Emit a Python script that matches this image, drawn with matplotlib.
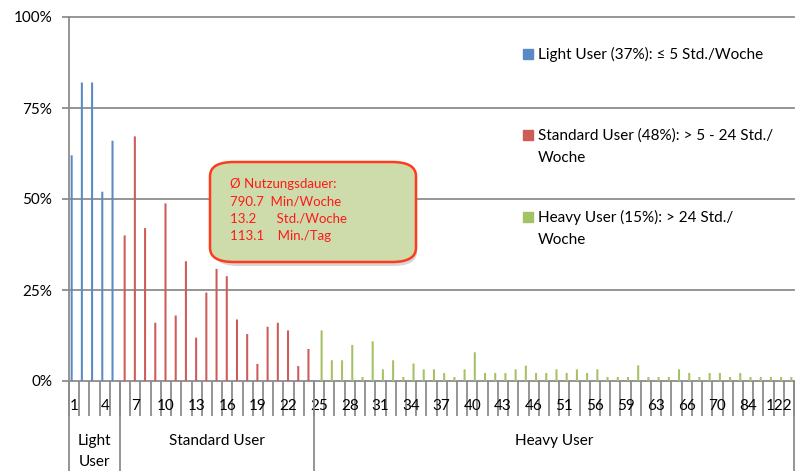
import numpy as np
import matplotlib.pyplot as plt
from matplotlib.patches import FancyBboxPatch, Rectangle
from matplotlib.lines import Line2D
import matplotlib.transforms as mtransforms

plt.rcParams['font.family'] = ['Lato', 'DejaVu Sans']

# Nutzungsdauer in Std./Woche (Kategorien der x-Achse)
categories = [str(h) for h in range(1, 47)] + [
    '48', '50', '51', '52', '55', '56', '57', '58', '59', '60', '62', '63',
    '64', '65', '66', '67', '68', '70', '72', '75', '84', '90', '98', '122', '168']

# Anteile in % je Kategorie
light_vals = [62, 82, 82, 52, 66]
standard_vals = [40, 67.2, 42, 16, 48.8, 18, 32.9, 11.9, 24.3, 30.8,
                 28.8, 16.9, 12.9, 4.7, 14.9, 16, 13.9, 4.1, 8.8]
heavy_vals = [13.9, 5.7, 5.7, 9.9, 1.1, 10.9, 3.2, 5.7, 1.1, 4.8,
              3.2, 3.2, 2.2, 1.1, 3.2, 7.9, 2.2, 2.2, 2.2, 3.2,
              4.2, 2.2, 2.2, 3.2, 2.2, 3.2, 2.2, 3.2, 1.1, 1.1,
              1.1, 4.3, 1.1, 1.1, 1.1, 3.2, 2.2, 1.1, 2.2, 2.2,
              1.1, 2.2, 1.1, 1.1, 1.1, 1.1, 1.1]

groups = ['Light\nUser', 'Standard User', 'Heavy User']
legend_labels = ['Light User (37%): \u2264 5 Std./Woche',
                 'Standard User (48%): > 5 - 24 Std./\nWoche',
                 'Heavy User (15%): > 24 Std./\nWoche']
box_lines = ['\u00d8 Nutzungsdauer:', '790.7  Min/Woche',
             '13.2      Std./Woche', '113.1    Min./Tag']

c_light = '#5a8ac6'
c_std = '#cd5b57'
c_heavy = '#a4c264'
grey = '#8c8c8c'

W, H = 799, 471
fig = plt.figure(figsize=(W / 100, H / 100), dpi=100)
ax = fig.add_axes([69 / W, (H - 381) / H, (794 - 69) / W, (381 - 17) / H])

n_light = len(light_vals)
n_std = len(standard_vals)
n_heavy = len(heavy_vals)
x_light = np.arange(n_light)
x_std = np.arange(n_light, n_light + n_std)
x_heavy = np.arange(n_light + n_std, n_light + n_std + n_heavy)

bw = 0.2
ax.bar(x_light - 0.24, light_vals, width=bw, color=c_light, zorder=3, snap=False)
ax.bar(x_std - 0.05, standard_vals, width=bw, color=c_std, zorder=3, snap=False)
ax.bar(x_heavy + 0.24, heavy_vals, width=bw, color=c_heavy, zorder=3, snap=False)

n = len(categories)
ax.set_xlim(-0.5, n - 0.5)
ax.set_ylim(0, 100)

for v in [0, 25, 50, 75, 100]:
    ax.axhline(v, color=grey, lw=1.3, zorder=1, clip_on=False)

for s in ['top', 'right', 'bottom']:
    ax.spines[s].set_visible(False)
ax.spines['left'].set_color(grey)
ax.spines['left'].set_linewidth(1.3)

ax.set_yticks([0, 25, 50, 75, 100])
ax.set_yticklabels(['0%', '25%', '50%', '75%', '100%'], fontsize=11)
ax.tick_params(axis='y', length=5, width=1.3, color=grey, pad=7)

# x ticks: major at category borders (long), minor in the middle with labels
ax.set_xticks(np.arange(n + 1) - 0.5)
ax.set_xticklabels([])
ax.tick_params(axis='x', which='major', length=25, width=1.3, color=grey)
ax.set_xticks(np.arange(n), minor=True)
ax.set_xticklabels([c if i % 3 == 0 else '' for i, c in enumerate(categories)],
                   minor=True, fontsize=11)
ax.tick_params(axis='x', which='minor', length=0, pad=13)

# Gruppen unter der Achse
trans = mtransforms.blended_transform_factory(ax.transData, ax.transAxes)
ybot = -(471 - 381) / (381 - 17)
for b in [-0.5, n_light - 0.5, n_light + n_std - 0.5, n - 0.5]:
    ax.add_line(Line2D([b, b], [0, ybot], transform=trans, color=grey,
                       lw=1.3, clip_on=False))
centers = [(-0.5 + n_light - 0.5) / 2,
           (n_light - 0.5 + n_light + n_std - 0.5) / 2,
           (n_light + n_std - 0.5 + n - 0.5) / 2]
for cx, g in zip(centers, groups):
    ax.text(cx, -(434 - 381) / 364, g, transform=trans, ha='center', va='top',
            fontsize=11, linespacing=1.65)

# Legende
leg_y = [54, 135, 216.7]
for col, lab, yy in zip([c_light, c_std, c_heavy], legend_labels, leg_y):
    fig.patches.append(Rectangle((523 / W, (H - yy - 5) / H), 10 / W, 10 / H,
                                 transform=fig.transFigure, color=col))
    fig.text(538 / W, (H - yy + 7) / H, lab, ha='left', va='top',
             fontsize=11, linespacing=1.78)

# Info-Box
shadow = FancyBboxPatch((214 / W, (H - 266) / H), 203 / W, 100 / H,
                        boxstyle='round,pad=0,rounding_size=0.03',
                        transform=fig.transFigure, facecolor='#bbbbbb',
                        edgecolor='none', alpha=0.6, zorder=4)
box = FancyBboxPatch((210 / W, (H - 262) / H), 206 / W, 100 / H,
                     boxstyle='round,pad=0,rounding_size=0.03',
                     transform=fig.transFigure, facecolor='#cddcaa',
                     edgecolor='#ff3b1f', lw=1.8, zorder=5)
fig.patches.append(shadow)
fig.patches.append(box)
for i, line in enumerate(box_lines):
    fig.text(230 / W, (H - (184 + i * 17.3)) / H, line, color='#ff1a1a',
             fontsize=9.5, ha='left', va='center', zorder=6)

fig.savefig('out.png', dpi=100)
